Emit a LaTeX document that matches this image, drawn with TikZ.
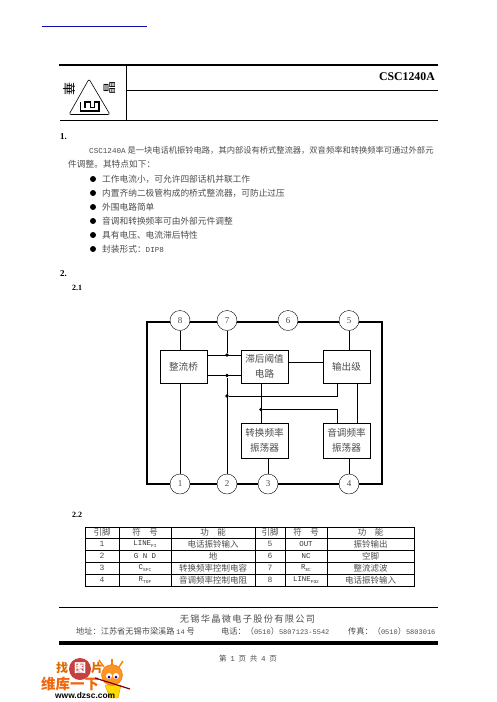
\documentclass[tikz,border=0pt]{standalone}
\usepackage{fontspec}
\setmainfont{Liberation Serif}
\setmonofont{Liberation Mono}
\newfontfamily\cjk{Noto Sans CJK SC}
\newfontfamily\cjkwide[LetterSpace=14]{Noto Sans CJK SC}
\newfontfamily\heros{Liberation Sans}
\definecolor{inkgray}{rgb}{0.3,0.3,0.3}
\definecolor{linkblue}{rgb}{0.05,0.05,0.7}
\definecolor{markorange}{rgb}{0.95,0.4,0.05}
\newcommand{\ltn}[1]{{\ttfamily\fontsize{7.6}{10}\selectfont #1}}
\newcommand{\ltnf}[1]{{\ttfamily\fontsize{7}{10}\selectfont #1}}
\newcommand{\sbs}[1]{\raisebox{-1.5pt}{\ttfamily\fontsize{4.5}{5}\selectfont #1}}
\tikzset{
    every node/.style={inner sep=0pt},
    headnum/.style={anchor=west, font=\bfseries\fontsize{9}{10}\selectfont},
    bodytext/.style={anchor=west, text=inkgray, font=\cjk\fontsize{8.7}{10}\selectfont},
    foottext/.style={anchor=west, text=inkgray, font=\cjk\fontsize{8.2}{10}\selectfont},
    dotmark/.style={circle, fill=black, minimum size=3.6pt},
    bullet/.style={circle, fill=black, minimum size=6pt},
    pinnode/.style={circle, draw, thin, fill=white, minimum size=20pt, text=inkgray, font=\fontsize{9}{10}\selectfont},
    blockbox/.style={draw, fill=white, line width=0.7pt, minimum width=47pt, text width=47pt, align=center, text=inkgray, font=\cjk\fontsize{9.6}{15}\selectfont},
    cell/.style={text=inkgray, font=\cjk\fontsize{8.5}{10}\selectfont},
    pincell/.style={text=inkgray, font=\ttfamily\fontsize{8}{10}\selectfont},
    symcell/.style={text=black!80, font=\ttfamily\fontsize{7.4}{10}\selectfont},
}
\begin{document}
\begin{tikzpicture}[x=1pt, y=-1pt]
  \useasboundingbox (0,0) rectangle (497,702);

  % link and page head
  \draw[linkblue, line width=0.9pt] (42,26) -- (147,26);
  \draw[line width=2pt] (59,65) -- (438,65);
  \draw[line width=0.8pt] (126,65) -- (126,120);
  \draw[line width=0.8pt] (126,90) -- (438,90);
  \draw[line width=0.8pt] (60,120) -- (438,120);
  \node[anchor=east, font=\bfseries\fontsize{11.8}{12}\selectfont] (title) at (435,77) {CSC1240A};

  % logo
  \draw[rounded corners=2pt, line width=0.6pt] (89,79) -- (110,114.5) -- (69,114.5) -- cycle;
  \draw[line width=1.3pt] (80.5,102) -- (80.5,111) -- (99,111) -- (99,102) -- (94.5,102) -- (94.5,107.5) -- (90.5,107.5) -- (90.5,102) -- (85,102) -- (85,107.5);
  \node[rotate=-90, font=\cjk\fontsize{13}{14}\selectfont] (logol) at (69,88.5) {華};
  \node[rotate=90, font=\cjk\fontsize{13}{14}\selectfont] (logor) at (110,88) {晶};

  % section 1
  \node[headnum] (s1) at (60,137) {1.};
  \node[bodytext, font=\cjk\fontsize{8.27}{10}\selectfont] (p1) at (89,150) {\ltn{CSC1240A} 是一块电话机振铃电路，其内部设有桥式整流器，双音频率和转换频率可通过外部元};
  \node[bodytext] (p2) at (68,164) {件调整。其特点如下：};
  \node[bullet] (b1) at (93,179) {};
  \node[bullet] (b2) at (93,193) {};
  \node[bullet] (b3) at (93,207) {};
  \node[bullet] (b4) at (93,221) {};
  \node[bullet] (b5) at (93,235) {};
  \node[bullet] (b6) at (93,249) {};
  \node[bodytext] (f1) at (102,179) {工作电流小，可允许四部话机并联工作};
  \node[bodytext] (f2) at (102,193) {内置齐纳二极管构成的桥式整流器，可防止过压};
  \node[bodytext] (f3) at (102,207) {外围电路简单};
  \node[bodytext] (f4) at (102,221) {音调和转换频率可由外部元件调整};
  \node[bodytext] (f5) at (102,235) {具有电压、电流滞后特性};
  \node[bodytext] (f6) at (102,249) {封装形式：\ltn{DIP8}};

  % section 2
  \node[headnum] (s2) at (60,274) {2.};
  \node[headnum, font=\bfseries\fontsize{8}{10}\selectfont] (s21) at (72,288) {2.1};

  % block diagram
  \draw[line width=1.5pt] (147,322) rectangle (382,484);
  \node[pinnode] (pin8) at (180,320.5) {8};
  \node[pinnode] (pin7) at (227,320.5) {7};
  \node[pinnode] (pin6) at (288,320.5) {6};
  \node[pinnode] (pin5) at (349,320.5) {5};
  \node[pinnode] (pin1) at (180,484) {1};
  \node[pinnode] (pin2) at (227,484) {2};
  \node[pinnode] (pin3) at (268,484) {3};
  \node[pinnode] (pin4) at (349,484) {4};

  \node[blockbox, minimum height=33pt] (bridge) at (183.5,366.5) {整流桥};
  \node[blockbox, minimum height=33pt] (hyst) at (264.5,366.5) {滞后阈值\\电路};
  \node[blockbox, minimum height=33pt] (outst) at (346.5,366.5) {输出级};
  \node[blockbox, minimum height=35pt] (swosc) at (264.5,440.5) {转换频率\\振荡器};
  \node[blockbox, minimum height=35pt] (toneosc) at (346.5,440.5) {音调频率\\振荡器};

  \node[dotmark] (j7) at (227,355) {};
  \node[dotmark] (j2) at (227,375.5) {};
  \node[dotmark] (j3) at (227,396) {};
  \node[dotmark] (j4) at (261,409.5) {};
  \coordinate (tapout) at (337,383);
  \coordinate (taptone) at (337,423);

  \draw (pin8) -- (pin8 |- bridge.north);
  \draw (pin1) -- (pin1 |- bridge.south);
  \draw (pin7) -- (j7);
  \draw (pin2) -- (j2);
  \draw (bridge.east |- j7) -- (hyst.west |- j7);
  \draw (bridge.east |- j2) -- (hyst.west |- j2);
  \draw (hyst.east |- 0,362) -- (outst.west |- 0,362);
  \draw (pin5) -- (pin5 |- outst.north);
  \draw (j3) -| (tapout);
  \draw (hyst.south -| j4) -- (swosc.north -| j4);
  \draw (j4) -| (taptone);
  \draw (357,383) -- (357,423);
  \draw (pin3) -- (pin3 |- swosc.south);
  \draw (pin4) -- (pin4 |- toneosc.south);

  % pin table
  \node[headnum, font=\bfseries\fontsize{8}{10}\selectfont] (s22) at (72,515) {2.2};
  \draw[line width=0.8pt] (85,527) rectangle (414,586);
  \draw[line width=0.8pt] (85,538) -- (414,538);
  \draw[line width=0.8pt] (85,550) -- (414,550);
  \draw[line width=0.8pt] (85,562) -- (414,562);
  \draw[line width=0.8pt] (85,574) -- (414,574);
  \draw[line width=0.8pt] (119,527) -- (119,586);
  \draw[line width=0.8pt] (171,527) -- (171,586);
  \draw[line width=0.8pt] (255,527) -- (255,586);
  \draw[line width=0.8pt] (285,527) -- (285,586);
  \draw[line width=0.8pt] (327,527) -- (327,586);

  \node[cell] (h1) at (102,532.5) {引脚};
  \node[cell] (h2) at (145,532.5) {符\quad 号};
  \node[cell] (h3) at (213,532.5) {功\quad 能};
  \node[cell] (h4) at (270,532.5) {引脚};
  \node[cell] (h5) at (306,532.5) {符\quad 号};
  \node[cell] (h6) at (370.5,532.5) {功\quad 能};

  \node[pincell] (r1a) at (102,544) {1};
  \node[symcell] (r1b) at (145,544) {LINE\sbs{FI}};
  \node[cell] (r1c) at (213,544) {电话振铃输入};
  \node[pincell] (r1d) at (270,544) {5};
  \node[symcell] (r1e) at (306,544) {OUT};
  \node[cell] (r1f) at (370.5,544) {振铃输出};

  \node[pincell] (r2a) at (102,556) {2};
  \node[symcell] (r2b) at (145,556) {G N D};
  \node[cell] (r2c) at (213,556) {地};
  \node[pincell] (r2d) at (270,556) {6};
  \node[symcell] (r2e) at (306,556) {NC};
  \node[cell] (r2f) at (370.5,556) {空脚};

  \node[pincell] (r3a) at (102,568) {3};
  \node[symcell] (r3b) at (145,568) {C\sbs{SFC}};
  \node[cell] (r3c) at (213,568) {转换频率控制电容};
  \node[pincell] (r3d) at (270,568) {7};
  \node[symcell] (r3e) at (306,568) {R\sbs{EC}};
  \node[cell] (r3f) at (370.5,568) {整流滤波};

  \node[pincell] (r4a) at (102,580) {4};
  \node[symcell] (r4b) at (145,580) {R\sbs{TOF}};
  \node[cell] (r4c) at (213,580) {音调频率控制电阻};
  \node[pincell] (r4d) at (270,580) {8};
  \node[symcell] (r4e) at (306,580) {LINE\sbs{FO2}};
  \node[cell] (r4f) at (370.5,580) {电话振铃输入};

  % page foot
  \draw[line width=0.8pt] (59,607) -- (438,607);
  \node[text=inkgray, font=\cjkwide\fontsize{9.2}{10}\selectfont] (corp) at (247.5,618.5) {无锡华晶微电子股份有限公司};
  \node[foottext] (addr) at (76,631) {地址：江苏省无锡市梁溪路 \ltnf{14} 号};
  \node[foottext] (tel) at (221,631) {电话：（\ltnf{0510}）\ltnf{5807123-5542}};
  \node[foottext] (fax) at (348,631) {传真：（\ltnf{0510}）\ltnf{5803016}};
  \draw[line width=4pt] (59,643) -- (438,643);
  \node[text=inkgray, font=\cjk\fontsize{7.5}{10}\selectfont] (pageno) at (248,659) {第\enspace\ltn{1}\enspace 页\enspace 共\enspace\ltn{4}\enspace 页};

  % watermark
  \node[circle, fill=red!70!black, minimum size=22pt, opacity=0.75] (seal) at (80,669) {};
  \node[text=orange!85!black, font=\cjk\bfseries\fontsize{12}{12}\selectfont] (wm1) at (62,668) {找};
  \node[text=white, font=\cjk\bfseries\fontsize{12}{12}\selectfont] (wm2) at (80,668) {图};
  \node[text=orange!85!black, font=\cjk\bfseries\fontsize{12}{12}\selectfont] (wm3) at (97,668) {片};
  \node[anchor=west, text=markorange, font=\cjk\bfseries\fontsize{14.5}{15}\selectfont] (wm4) at (41,683.5) {维库一下};
  \draw[fill=yellow!80!orange, draw=orange] (105,685) -- (121,685) -- (118,698) -- (110,698) -- cycle;
  \draw[orange, line width=1.4pt] (104,667) -- (99,660);
  \draw[orange, line width=1.4pt] (112,666) -- (112,659);
  \draw[orange, line width=1.4pt] (119,667) -- (123,661);
  \node[circle, draw=orange!90!black, fill=orange!85, minimum size=21pt] (head) at (112,675) {};
  \node[circle, fill=white, minimum size=6pt] (eyel) at (109,676) {};
  \node[circle, fill=white, minimum size=6pt] (eyer) at (116,676) {};
  \node[circle, fill=blue!60!black, minimum size=3pt] (pupl) at (109,677) {};
  \node[circle, fill=blue!60!black, minimum size=3pt] (pupr) at (116,677) {};
  \draw[red!50!black, line width=1.2pt] (95,678) -- (130,689);
  \node[anchor=west, text=black, font=\heros\bfseries\fontsize{8.4}{9}\selectfont] (wm5) at (55,695.5) {www.dzsc.com};
\end{tikzpicture}
\end{document}
